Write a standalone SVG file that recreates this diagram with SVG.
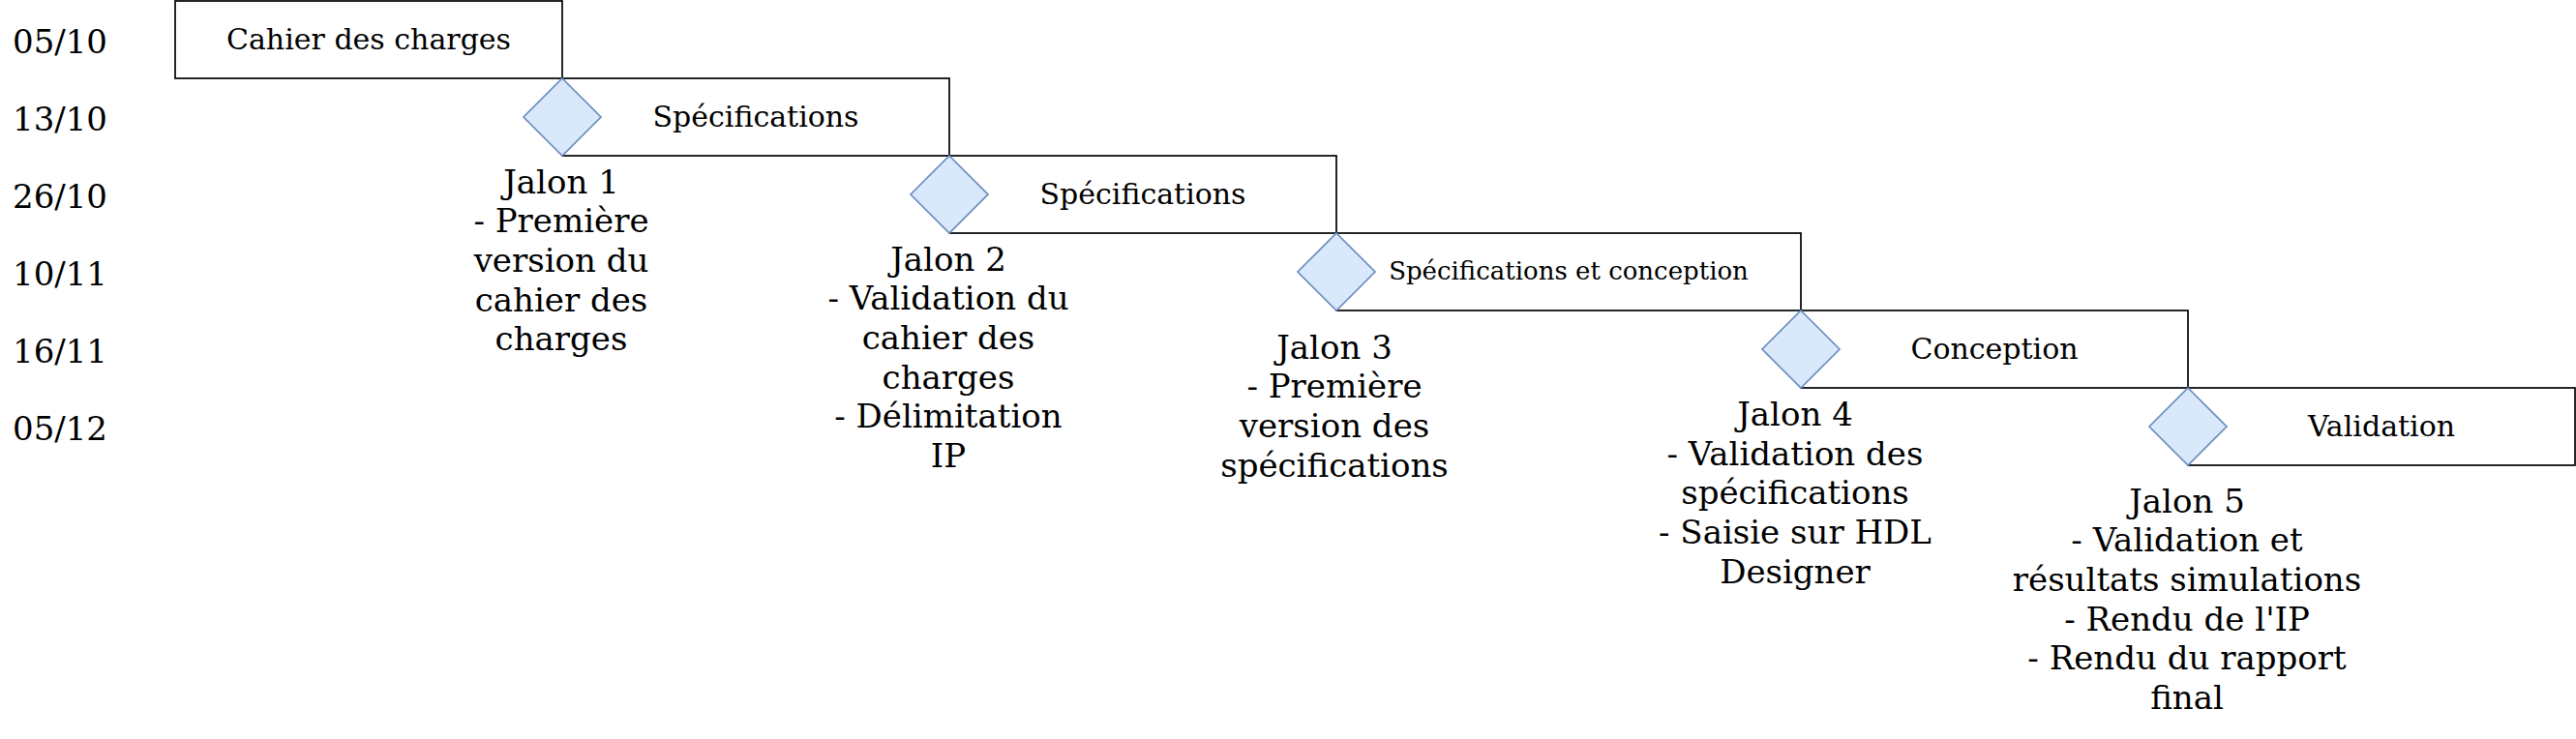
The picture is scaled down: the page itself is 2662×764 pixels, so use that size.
<svg xmlns="http://www.w3.org/2000/svg" width="2662" height="764" viewBox="0 0 2662 764">
<style>
.bg{fill:#ffffff}
.task{fill:#ffffff;stroke:#000000;stroke-width:1.7}
.ms{fill:#dae8fc;stroke:#6c8ebf;stroke-width:1.7}
text{font-family:"DejaVu Serif","Liberation Serif",serif;fill:#000000}
.date{font-size:34px}
.lbl{font-size:30px;text-anchor:middle}
.lbls{font-size:26px;text-anchor:middle}
.jal{font-size:34px;text-anchor:middle}
</style>
<rect class="bg" x="0" y="0" width="2662" height="764"/>
<g id="dates">
<text class="date" x="13" y="55">05/10</text>
<text class="date" x="13" y="135">13/10</text>
<text class="date" x="13" y="215">26/10</text>
<text class="date" x="13" y="295">10/11</text>
<text class="date" x="13" y="375">16/11</text>
<text class="date" x="13" y="455">05/12</text>
</g>
<g id="task1"><rect class="task" x="181" y="1" width="400" height="80"/><text class="lbl" x="381" y="51">Cahier des charges</text></g>
<g id="task2"><rect class="task" x="581" y="81" width="400" height="80"/><text class="lbl" x="781" y="131">Spécifications</text></g>
<g id="task3"><rect class="task" x="981" y="161" width="400" height="80"/><text class="lbl" x="1181" y="211">Spécifications</text></g>
<g id="task4"><rect class="task" x="1381" y="241" width="480" height="80"/><text class="lbls" x="1621" y="289">Spécifications et conception</text></g>
<g id="task5"><rect class="task" x="1861" y="321" width="400" height="80"/><text class="lbl" x="2061" y="371">Conception</text></g>
<g id="task6"><rect class="task" x="2261" y="401" width="400" height="80"/><text class="lbl" x="2461" y="451">Validation</text></g>
<g id="jalon1"><polygon class="ms" points="581,81 621,121 581,161 541,121"/>
<text class="jal" x="580" y="199.5"><tspan x="580">Jalon 1</tspan><tspan x="580" dy="40.7">- Première</tspan><tspan x="580" dy="40.7">version du</tspan><tspan x="580" dy="40.7">cahier des</tspan><tspan x="580" dy="40.7">charges</tspan></text></g>
<g id="jalon2"><polygon class="ms" points="981,161 1021,201 981,241 941,201"/>
<text class="jal" x="980" y="279.5"><tspan x="980">Jalon 2</tspan><tspan x="980" dy="40.7">- Validation du</tspan><tspan x="980" dy="40.7">cahier des</tspan><tspan x="980" dy="40.7">charges</tspan><tspan x="980" dy="40.7">- Délimitation</tspan><tspan x="980" dy="40.7">IP</tspan></text></g>
<g id="jalon3"><polygon class="ms" points="1381,241 1421,281 1381,321 1341,281"/>
<text class="jal" x="1379" y="370.5"><tspan x="1379">Jalon 3</tspan><tspan x="1379" dy="40.7">- Première</tspan><tspan x="1379" dy="40.7">version des</tspan><tspan x="1379" dy="40.7">spécifications</tspan></text></g>
<g id="jalon4"><polygon class="ms" points="1861,321 1901,361 1861,401 1821,361"/>
<text class="jal" x="1855" y="440"><tspan x="1855">Jalon 4</tspan><tspan x="1855" dy="40.7">- Validation des</tspan><tspan x="1855" dy="40.7">spécifications</tspan><tspan x="1855" dy="40.7">- Saisie sur HDL</tspan><tspan x="1855" dy="40.7">Designer</tspan></text></g>
<g id="jalon5"><polygon class="ms" points="2261,401 2301,441 2261,481 2221,441"/>
<text class="jal" x="2260" y="529.5"><tspan x="2260">Jalon 5</tspan><tspan x="2260" dy="40.7">- Validation et</tspan><tspan x="2260" dy="40.7">résultats simulations</tspan><tspan x="2260" dy="40.7">- Rendu de l'IP</tspan><tspan x="2260" dy="40.7">- Rendu du rapport</tspan><tspan x="2260" dy="40.7">final</tspan></text></g>
</svg>
